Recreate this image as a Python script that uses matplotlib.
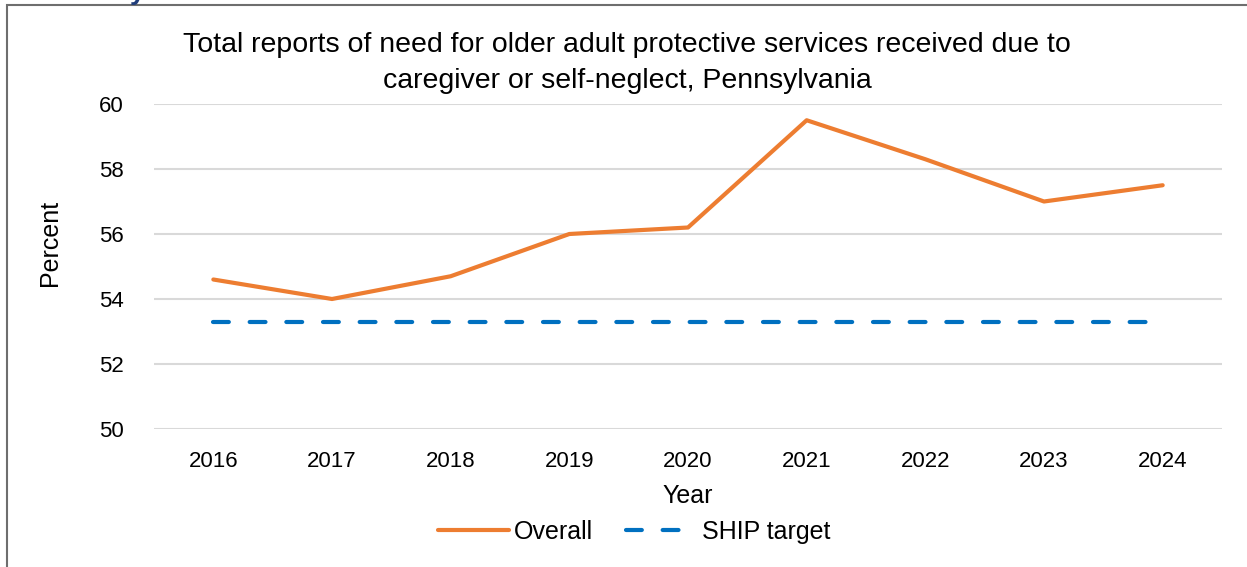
import matplotlib.pyplot as plt
from matplotlib.patches import Rectangle

plt.rcParams['font.family'] = ['Liberation Sans', 'DejaVu Sans']

# данные
years = ['2016', '2017', '2018', '2019', '2020', '2021', '2022', '2023', '2024']
overall = [54.6, 54.0, 54.7, 56.0, 56.2, 59.5, 58.3, 57.0, 57.5]
ship_target = [53.3] * len(years)

W, H = 1247, 567
fig = plt.figure(figsize=(W / 100, H / 100), dpi=100)
ax = fig.add_axes([154 / W, 1 - 429 / H, (1222 - 154) / W, (429 - 104) / H])

x = list(range(len(years)))
ax.plot(x, overall, color='#ED7D31', lw=3, solid_capstyle='round', label='Overall')
ax.plot(x, ship_target, color='#0070C0', lw=3, dash_capstyle='round',
        dashes=(3.8, 5.0), label='SHIP target')

ax.set_xlim(-0.5, len(years) - 0.5)
ax.set_ylim(50, 60)
ax.set_yticks([50, 52, 54, 56, 58, 60])
ax.set_xticks(x)
ax.set_xticklabels(years)
ax.tick_params(axis='both', length=0, labelsize=16, colors='black')
ax.tick_params(axis='x', pad=16)
ax.tick_params(axis='y', pad=22)
ax.grid(axis='y', color='#D9D9D9', lw=1.5)
ax.set_axisbelow(True)
for s in ax.spines.values():
    s.set_visible(False)

ax.set_xlabel('Year', fontsize=18)
ax.xaxis.set_label_coords(0.5, -(484 - 429) / (429 - 104), transform=ax.transAxes)
ax.set_ylabel('Percent', fontsize=18)
ax.yaxis.set_label_coords(-(154 - 62) / (1222 - 154), (429 - 243) / (429 - 104))

fig.text(627 / W, 1 - 63 / H,
         'Total reports of need for older adult protective services received due to\n'
         'caregiver or self-neglect, Pennsylvania',
         ha='center', va='center', fontsize=20.5, linespacing=1.5)

ax.legend(loc='center', bbox_to_anchor=(634 / W, 1 - 532 / H), bbox_transform=fig.transFigure,
          ncol=2, frameon=False, fontsize=18, handlelength=2.85, handletextpad=0.2,
          columnspacing=1.3)

# рамка вокруг рисунка
fig.patches.append(Rectangle((7 / W, -0.1), 2.0, 1.1 - 5 / H, transform=fig.transFigure,
                             fill=False, edgecolor='#6E6E6E', lw=1.5))
fig.text(130 / W, 1 + 1 / H, 'y', color='#1F3D7A', fontsize=20, fontweight='bold',
         va='baseline')

fig.savefig('out.png', dpi=100)
